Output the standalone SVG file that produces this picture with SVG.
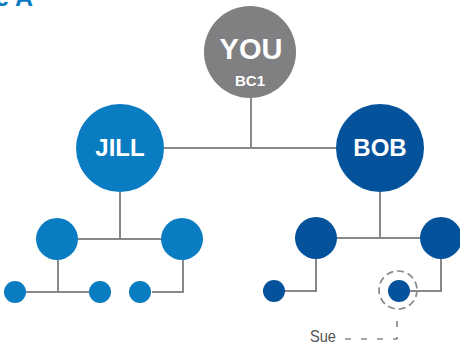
<svg xmlns="http://www.w3.org/2000/svg" width="460" height="345" viewBox="0 0 460 345">
<style>
.ln{stroke:#88888b;stroke-width:2;fill:none}
.dash{stroke:#88888b;stroke-width:1.7;fill:none;stroke-dasharray:6 10}
.lb{font-family:"Liberation Sans",Arial,sans-serif;font-weight:bold;fill:#fff;text-anchor:middle}
.j{fill:#0a7cc1}
.b{fill:#04529b}
</style>
<rect width="460" height="345" fill="#fff"/>
<text x="33" y="6" font-family="Liberation Sans,Arial,sans-serif" font-weight="bold" font-size="25" fill="#0a7cc1" text-anchor="end">e A</text>
<g id="connectors">
<path class="ln" d="M251 98V148M164 148H336"/>
<path class="ln" d="M120 192V239M78 239H162"/>
<path class="ln" d="M380 192V238M336 238H420"/>
<path class="ln" d="M58 260V292M26 292H89"/>
<path class="ln" d="M152 292H183V260"/>
<path class="ln" d="M285 291H316V259"/>
<path class="ln" d="M410 291H441V259"/>
<path class="dash" d="M345 339H397V311"/>
</g>
<g id="you"><circle cx="250" cy="52" r="46" fill="#808083"/><text class="lb" x="251" y="59" font-size="29">YOU</text><text class="lb" x="250" y="86" font-size="15">BC1</text></g>
<g id="jill"><circle class="j" cx="120" cy="148" r="44"/><text class="lb" x="120" y="156" font-size="24">JILL</text></g>
<g id="bob"><circle class="b" cx="380" cy="148" r="44"/><text class="lb" x="380" y="156" font-size="24">BOB</text></g>
<g id="j1"><circle class="j" cx="57" cy="239" r="21"/></g>
<g id="j2"><circle class="j" cx="182" cy="239" r="21"/></g>
<g id="b1"><circle class="b" cx="316" cy="238" r="21"/></g>
<g id="b2"><circle class="b" cx="441" cy="238" r="21"/></g>
<g id="j1a"><circle class="j" cx="15" cy="292" r="11"/></g>
<g id="j1b"><circle class="j" cx="100" cy="292" r="11"/></g>
<g id="j2a"><circle class="j" cx="140" cy="292" r="11"/></g>
<g id="b1a"><circle class="b" cx="274" cy="291" r="11"/></g>
<g id="sue"><circle class="b" cx="399" cy="291" r="11"/><circle class="dash" cx="398" cy="290" r="19" style="stroke-dasharray:7 4"/><text x="310" y="342" font-family="Liberation Sans Narrow,Liberation Sans,Arial,sans-serif" font-size="17" fill="#555" textLength="26" lengthAdjust="spacingAndGlyphs">Sue</text></g>
</svg>
